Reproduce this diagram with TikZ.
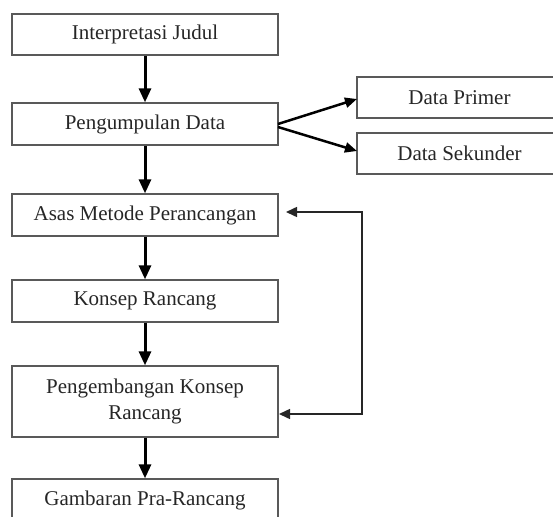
\documentclass[tikz,border=0pt]{standalone}
\usepackage{fontspec}
\setmainfont{Liberation Serif}
\usetikzlibrary{arrows.meta}
\definecolor{boxline}{gray}{0.35}
\definecolor{txt}{gray}{0.15}
\tikzset{
  box/.style={draw=boxline, line width=1.3pt, minimum width=266pt, inner sep=0pt, align=center, text=txt, font=\fontsize{21pt}{26pt}\selectfont},
  sidebox/.style={box, minimum width=205pt, minimum height=41pt},
  mainarrow/.style={line width=3pt, -{Triangle[length=14pt,width=12pt]}},
  dataarrow/.style={line width=2.5pt, -{Triangle[length=12pt,width=10pt]}},
  fbarrow/.style={line width=1.5pt, draw=black!85, {Triangle[length=11pt,width=10pt]}-{Triangle[length=11pt,width=10pt]}}
}
\begin{document}
\begin{tikzpicture}[x=1pt,y=-1pt]
\useasboundingbox (0,0) rectangle (553,516);
\clip (0,0) rectangle (553,516);
\node[box, minimum height=41pt] (n1) at (145,34.5) {Interpretasi Judul};
\node[box, minimum height=42pt] (n2) at (145,124) {Pengumpulan Data};
\node[box, minimum height=42pt] (n3) at (145,215) {Asas Metode Perancangan};
\node[box, minimum height=42pt] (n4) at (145,301) {Konsep Rancang};
\node[box, minimum height=71pt] (n5) at (145,401.5) {Pengembangan Konsep\\Rancang};
\node[box, minimum height=42pt] (n6) at (145,500) {Gambaran Pra-Rancang};
\node[sidebox] (dp) at (459.5,97.5) {Data Primer};
\node[sidebox] (ds) at (459.5,153.5) {Data Sekunder};
\draw[mainarrow] (n1.south) -- (n2.north);
\draw[mainarrow] (n2.south) -- (n3.north);
\draw[mainarrow] (n3.south) -- (n4.north);
\draw[mainarrow] (n4.south) -- (n5.north);
\draw[mainarrow] (n5.south) -- (n6.north);
\coordinate (s1) at (278,124);
\coordinate (s2) at (278,127);
\coordinate (t1) at (357,99);
\coordinate (t2) at (357,151);
\draw[dataarrow] (s1) -- (t1);
\draw[dataarrow] (s2) -- (t2);
\coordinate (c1) at (362,212);
\coordinate (c2) at (362,414);
\coordinate (e1) at (286,212);
\coordinate (e2) at (279,414);
\draw[fbarrow] (e1) -- (c1) -- (c2) -- (e2);
\end{tikzpicture}
\end{document}
